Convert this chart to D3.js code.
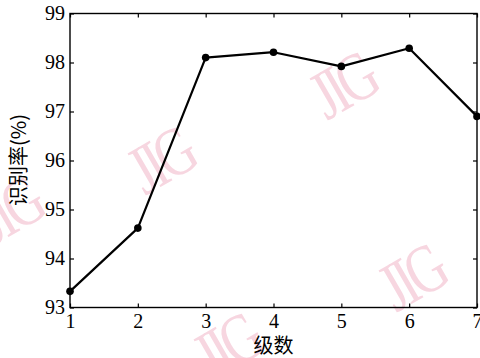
<!DOCTYPE html>
<html>
<head>
<meta charset="utf-8">
<script src="https://cdn.jsdelivr.net/npm/d3@7"></script>
<style>
  html, body { margin: 0; padding: 0; background: #fff; }
  svg { display: block; }
</style>
</head>
<body>
<svg id="chart" width="480" height="358"></svg>
<script>
// Recognition rate by number of levels
const levels = [1, 2, 3, 4, 5, 6, 7];
const rates = [93.33, 94.62, 98.1, 98.21, 97.92, 98.29, 96.9];
const xTicks = [1, 2, 3, 4, 5, 6, 7];
const yTicks = [93, 94, 95, 96, 97, 98, 99];
const xTitle = "级数";
const yTitle = "识别率(%)";

// Journal stamp marks scattered over the figure
const stampText = "JIG";
const stampSpots = [[160, 160], [342, 85], [411, 277], [226, 346], [8, 210]];

const svg = d3.select("#chart");
const W = 480, H = 358;
const m = { left: 70, right: 3, top: 13.5, bottom: 50.5 };
const x = d3.scaleLinear().domain([1, 7]).range([m.left, W - m.right]);
const y = d3.scaleLinear().domain([93, 99]).range([H - m.bottom, m.top]);

const serif = "'Liberation Serif', 'DejaVu Serif', serif";
const cjk = "'Noto Sans CJK SC', 'Noto Sans', sans-serif";

// stamps underneath everything
svg.append("g").selectAll("text").data(stampSpots).join("text")
  .attr("transform", d => `translate(${d[0]},${d[1]}) rotate(-30) scale(0.8,1.05)`)
  .attr("text-anchor", "middle")
  .attr("dominant-baseline", "central")
  .attr("font-family", serif)
  .attr("font-size", 66)
  .attr("letter-spacing", -6)
  .attr("fill", "#f7d6e0")
  .text(stampText);

const tickLen = 4;
const axisStyle = g => {
  g.select(".domain").remove();
  g.selectAll("line").attr("stroke", "#000").attr("stroke-width", 1.2);
  g.selectAll("text").attr("font-family", serif).attr("font-size", 20).attr("fill", "#000");
};

// bottom axis, ticks pointing inward
svg.append("g").attr("transform", `translate(0,${H - m.bottom})`)
  .call(d3.axisBottom(x).tickValues(xTicks).tickFormat(d3.format("d"))
    .tickSizeInner(-tickLen).tickSizeOuter(0).tickPadding(6))
  .call(axisStyle);
// top axis
svg.append("g").attr("transform", `translate(0,${m.top})`)
  .call(d3.axisTop(x).tickValues(xTicks).tickFormat("")
    .tickSizeInner(-tickLen).tickSizeOuter(0))
  .call(axisStyle);
// left axis
svg.append("g").attr("transform", `translate(${m.left},0)`)
  .call(d3.axisLeft(y).tickValues(yTicks).tickFormat(d3.format("d"))
    .tickSizeInner(-tickLen).tickSizeOuter(0).tickPadding(5))
  .call(axisStyle);
// right axis
svg.append("g").attr("transform", `translate(${W - m.right},0)`)
  .call(d3.axisRight(y).tickValues(yTicks).tickFormat("")
    .tickSizeInner(-tickLen).tickSizeOuter(0))
  .call(axisStyle);

// frame
svg.append("rect")
  .attr("x", m.left).attr("y", m.top)
  .attr("width", W - m.right - m.left).attr("height", H - m.bottom - m.top)
  .attr("fill", "none").attr("stroke", "#000").attr("stroke-width", 1.4);

const pts = levels.map((lv, i) => [lv, rates[i]]);

svg.append("path")
  .datum(pts)
  .attr("fill", "none")
  .attr("stroke", "#000")
  .attr("stroke-width", 2.2)
  .attr("stroke-linejoin", "round")
  .attr("d", d3.line().x(d => x(d[0])).y(d => y(d[1])));

svg.append("g").selectAll("circle").data(pts).join("circle")
  .attr("cx", d => x(d[0])).attr("cy", d => y(d[1]))
  .attr("r", 3.8).attr("fill", "#000");

// axis titles
svg.append("text")
  .attr("x", (m.left + W - m.right) / 2).attr("y", 353)
  .attr("text-anchor", "middle")
  .attr("font-family", cjk).attr("font-size", 20).attr("fill", "#000")
  .text(xTitle);

svg.append("text")
  .attr("transform", `translate(26,160) rotate(-90)`)
  .attr("text-anchor", "middle")
  .attr("font-family", cjk).attr("font-size", 20).attr("fill", "#000")
  .text(yTitle);
</script>
</body>
</html>
